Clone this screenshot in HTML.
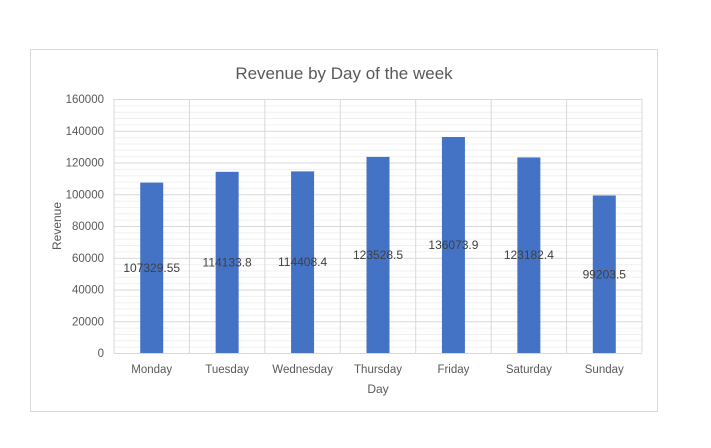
<!DOCTYPE html>
<html><head><meta charset="utf-8"><style>
body{margin:0;background:#fff;width:711px;height:443px;overflow:hidden;font-family:"Liberation Sans",sans-serif}
</style></head><body>
<svg width="711" height="443" id="c" font-family="Liberation Sans, sans-serif">
<rect x="30.5" y="49.5" width="627" height="362" fill="#fff" stroke="#d9d9d9"/>
<text x="344" y="79" text-anchor="middle" font-size="17" fill="#595959">Revenue by Day of the week</text>
<text x="378" y="393" text-anchor="middle" font-size="12" fill="#595959">Day</text>
<text transform="translate(61,226) rotate(-90)" text-anchor="middle" font-size="12" fill="#595959">Revenue</text>
<g id="grid"></g><g id="bars"></g><g id="labels"></g>
</svg>
<script>
const categories=["Monday","Tuesday","Wednesday","Thursday","Friday","Saturday","Sunday"];
const revenue=[107329.55,114133.8,114408.4,123528.5,136073.9,123182.4,99203.5];
const valueLabels=["107329.55","114133.8","114408.4","123528.5","136073.9","123182.4","99203.5"];
const yTicks=[0,20000,40000,60000,80000,100000,120000,140000,160000];
const NS="http://www.w3.org/2000/svg";
const L=114,R=642,T=99,B=353,yMax=160000;
const y=v=>B-(v/yMax)*(B-T);
const bw=(R-L)/categories.length;
const x=i=>L+bw*(i+0.5);
function mk(t,a,p){const e=document.createElementNS(NS,t);for(const k in a)e.setAttribute(k,a[k]);p.appendChild(e);return e;}
const g=document.getElementById('grid');
for(let v=0;v<=yMax;v+=4000){
 const l=mk('line',{x1:L,x2:R,y1:y(v)+0.5,y2:y(v)+0.5,stroke:v%20000?'#f0f0f0':'#d9d9d9','stroke-width':1},g);
 
 
}
for(let i=0;i<=categories.length;i++){
 const l=mk('line',{x1:L+bw*i,x2:L+bw*i,y1:T,y2:B,stroke:'#d9d9d9'},g);
 
 
}
yTicks.forEach(v=>{
 const t=mk('text',{x:104,y:y(v)+4,'text-anchor':'end','font-size':11.5,fill:'#595959'},g);
 t.textContent=v;
 
 
});
const bg=document.getElementById('bars'),lg=document.getElementById('labels');
categories.forEach((c,i)=>{
 const r=mk('rect',{x:x(i)-11.5,y:y(revenue[i]),width:23,height:B-y(revenue[i]),fill:'#4472c4'},bg);
 
 
 const t=mk('text',{x:x(i),y:y(revenue[i]/2)+4,'text-anchor':'middle','font-size':12,fill:'#404040'},lg);
 t.textContent=valueLabels[i];
 
 
 const ct=mk('text',{x:x(i),y:373,'text-anchor':'middle','font-size':11.5,fill:'#595959'},lg);
 ct.textContent=c;
 
 
});
</script>
</body></html>
